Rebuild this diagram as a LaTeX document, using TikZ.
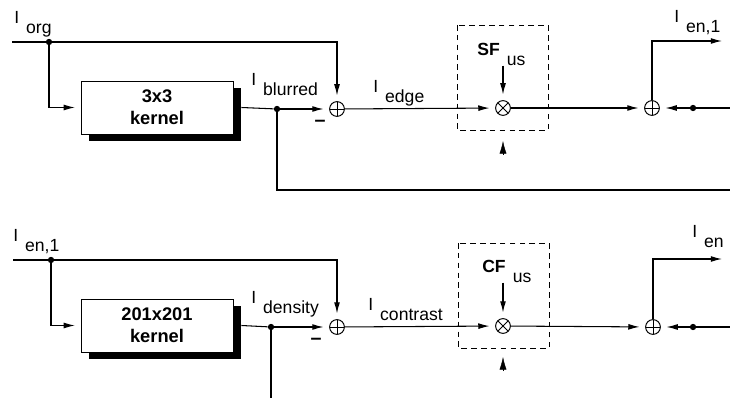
\documentclass[tikz,border=0pt]{standalone}
\usepackage{fontspec}
\setmainfont{Liberation Sans}
\usetikzlibrary{arrows.meta, positioning, shadows}
\tikzset{
  kernelbox/.style={
    rectangle, draw, line width=0.6pt, fill=white,
    minimum width=3.8cm, minimum height=1.325cm,
    align=center, font=\fontsize{13}{15.5}\selectfont\bfseries,
    drop shadow={shadow xshift=0.2cm, shadow yshift=-0.175cm,
                 fill=black, opacity=1}
  },
  sumnode/.style={
    circle, draw, line width=0.7pt, minimum size=10.5pt, inner sep=0pt,
    path picture={\draw[line width=0.6pt]
      (path picture bounding box.north) -- (path picture bounding box.south)
      (path picture bounding box.west) -- (path picture bounding box.east);}
  },
  mulnode/.style={
    circle, draw, line width=0.7pt, minimum size=10.5pt, inner sep=0pt,
    path picture={\draw[line width=0.6pt]
      (path picture bounding box.north west) -- (path picture bounding box.south east)
      (path picture bounding box.north east) -- (path picture bounding box.south west);}
  },
  joint/.style={circle, fill, inner sep=0pt, minimum size=4.5pt},
  sigline/.style={line width=0.75pt},
  sigarrow/.style={sigline, -{Latex[length=8pt, width=4.2pt]}},
  inarrow/.style={sigarrow, shorten >=4pt},
  tiparrow/.style={-{Latex[length=9pt, width=5pt]}, line width=0.3pt},
  siglabel/.style={anchor=base west, inner sep=0pt,
                   font=\fontsize{12.5}{15}\selectfont},
  minuslabel/.style={inner sep=0pt, font=\fontsize{14}{16}\selectfont\bfseries},
  gainbox/.style={draw, line width=0.6pt, dash pattern=on 4pt off 3pt},
}
\newcommand{\sigsub}[2]{#1\hspace{5pt}\raisebox{-6.5pt}{#2}}

\begin{document}
\begin{tikzpicture}[x=0.025cm, y=-0.025cm]
  \useasboundingbox (0,0) rectangle (730,406);

  % unsharp masking, 3x3 kernel
  \coordinate (in1) at (12,42);
  \node[joint] (j1) at (49,42) {};
  \node[kernelbox] (k1) at (157,107.5) {3x3\\kernel};
  \node[joint] (d1) at (277,109) {};
  \node[sumnode] (s1) at (337,109) {};
  \node[mulnode] (x1) at (503,108) {};
  \node[sumnode] (sb1) at (652,108) {};
  \node[joint] (fd1) at (693,108) {};
  \coordinate (fin1) at (730,108);
  \coordinate (out1) at (722,41);
  \coordinate (fb1) at (730,190);
  \coordinate (g1) at (503,155);
  \node[minuslabel] (neg1) at (320,123) {--};
  \node[siglabel] (lorg) at (14,24) {\sigsub{I}{org}};
  \node[siglabel] (lblur) at (251,86) {\sigsub{I}{blurred}};
  \node[siglabel] (ledge) at (373,93) {\sigsub{I}{edge}};
  \node[siglabel] (lsf) at (477,56) {\sigsub{\textbf{SF}}{us}};
  \node[siglabel] (lenA) at (674,23) {\sigsub{I}{en,1}};
  \draw[gainbox] (457,25) rectangle (548,130);
  \draw[sigline] (in1) -- (j1);
  \draw[inarrow] (j1) -| (s1);
  \draw[inarrow] (j1) |- (k1.west);
  \draw[sigline] ([xshift=0.2cm]k1.east) -- (d1);
  \draw[inarrow] (d1) -- (s1);
  \draw[sigline] (d1) |- (fb1);
  \draw[inarrow] (s1) -- (x1);
  \draw[inarrow] (lsf.south -| x1) -- (x1);
  \draw[tiparrow] (g1) -- ++(0,-14);
  \draw[inarrow] (x1) -- (sb1);
  \draw[sigarrow] (sb1) |- (out1);
  \draw[sigline] (fin1) -- (fd1);
  \draw[inarrow] (fd1) -- (sb1);

  % contrast enhancement, 201x201 kernel
  \coordinate (in2) at (13,260);
  \node[joint] (j2) at (51,260) {};
  \node[kernelbox] (k2) at (157,325.5) {201x201\\kernel};
  \node[joint] (d2) at (271,327) {};
  \node[sumnode] (s2) at (337,327) {};
  \node[mulnode] (x2) at (503,326) {};
  \node[sumnode] (sb2) at (653,327) {};
  \node[joint] (fd2) at (693,327) {};
  \coordinate (fin2) at (730,327);
  \coordinate (out2) at (722,259);
  \coordinate (fb2) at (271,398);
  \coordinate (g2) at (503,371);
  \node[minuslabel] (neg2) at (316,341) {--};
  \node[siglabel] (lenB) at (13,242) {\sigsub{I}{en,1}};
  \node[siglabel] (ldens) at (251,304) {\sigsub{I}{density}};
  \node[siglabel] (lcon) at (368,311) {\sigsub{I}{contrast}};
  \node[siglabel] (lcf) at (482,273) {\sigsub{\textbf{CF}}{us}};
  \node[siglabel] (lenC) at (692,238) {\sigsub{I}{en}};
  \draw[gainbox] (458,243) rectangle (549,348);
  \draw[sigline] (in2) -- (j2);
  \draw[inarrow] (j2) -| (s2);
  \draw[inarrow] (j2) |- (k2.west);
  \draw[sigline] ([xshift=0.2cm]k2.east) -- (d2);
  \draw[inarrow] (d2) -- (s2);
  \draw[sigline] (d2) -- (fb2);
  \draw[inarrow] (s2) -- (x2);
  \draw[inarrow] (lcf.south -| x2) -- (x2);
  \draw[tiparrow] (g2) -- ++(0,-14);
  \draw[inarrow] (x2) -- (sb2);
  \draw[sigarrow] (sb2) |- (out2);
  \draw[sigline] (fin2) -- (fd2);
  \draw[inarrow] (fd2) -- (sb2);
\end{tikzpicture}
\end{document}
